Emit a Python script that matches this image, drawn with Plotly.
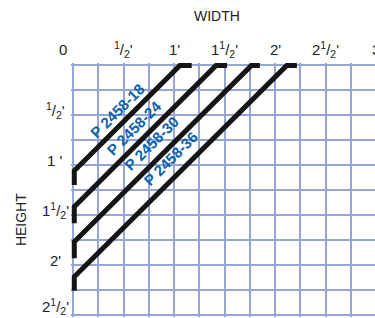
import plotly.graph_objects as go

# ---- data (inches) ----
models = ["P 2458-18", "P 2458-24", "P 2458-30", "P 2458-36"]
corner = [12.7, 17.0, 21.2, 25.4]      # where the 45° run meets the left edge / top edge
bottom = [14.4, 19.0, 23.2, 27.1]      # lower end of vertical leg
top_end = [14.1, 18.3, 22.2, 26.6]     # right end of horizontal leg
label_x = [5.3, 7.3, 9.3, 11.6]
label_y = [5.5, 7.5, 9.4, 11.2]

x_tick_vals = [0, 6, 12, 18, 24, 30, 36]
x_tick_text = ["0", "<sup>1</sup>/<sub>2</sub>'", "1'", "1<sup>1</sup>/<sub>2</sub>'",
               "2'", "2<sup>1</sup>/<sub>2</sub>'", "3"]
y_tick_vals = [6, 12, 18, 24, 30]
y_tick_text = ["<sup>1</sup>/<sub>2</sub>'", "1 '", "1<sup>1</sup>/<sub>2</sub>'",
               "2'", "2<sup>1</sup>/<sub>2</sub>'"]

FONT = "Liberation Sans, Arial, Helvetica"
X_RANGE = [-0.24, 35.88]
PX_PER_IN = 304 / (X_RANGE[1] - X_RANGE[0])
LEG = 0.15
fig = go.Figure()
for i, m in enumerate(models):
    fig.add_trace(go.Scatter(
        x=[LEG, LEG, corner[i], top_end[i]],
        y=[bottom[i], corner[i], 0.05, 0.05],
        mode="lines", line=dict(color="#151515", width=5),
        hoverinfo="skip", showlegend=False))

ann = []
for i, m in enumerate(models):
    ann.append(dict(x=label_x[i], y=label_y[i], xref="x", yref="y", text="<b>%s</b>" % m,
                    textangle=-45, showarrow=False, xanchor="center", yanchor="middle",
                    font=dict(family=FONT, size=15, color="#0a62ab")))
for v, t in zip(x_tick_vals, x_tick_text):
    xv = min(v, X_RANGE[1])
    shift = (v - xv) * PX_PER_IN
    if v == 0:
        shift -= 10
    ann.append(dict(x=xv, y=0, xref="x", yref="y", text=t, showarrow=False,
                    yanchor="middle", xanchor="center", yshift=16, xshift=shift,
                    font=dict(family=FONT, size=15, color="#222")))
for v, t in zip(y_tick_vals, y_tick_text):
    ann.append(dict(x=0, y=v, xref="x", yref="y", text=t, showarrow=False,
                    yanchor="middle", xanchor="center", xshift=-18,
                    yshift=5 if v != 30 else 9,
                    font=dict(family=FONT, size=15, color="#222")))
ann.append(dict(x=0.48, y=1.185, xref="paper", yref="paper", text="WIDTH", showarrow=False,
                xanchor="center", yanchor="middle",
                font=dict(family=FONT, size=14, color="#222")))
ann.append(dict(x=-0.164, y=0.382, xref="paper", yref="paper", text="HEIGHT", showarrow=False,
                textangle=-90, xanchor="center", yanchor="middle",
                font=dict(family=FONT, size=14, color="#222")))

grid = "#95a5d4"
fig.update_layout(
    width=375, height=318,
    margin=dict(l=71, r=0, t=63, b=1),
    paper_bgcolor="white", plot_bgcolor="white",
    xaxis=dict(range=X_RANGE, tickmode="linear", tick0=0, dtick=3,
               showgrid=True, gridcolor=grid, gridwidth=2, zeroline=False,
               showticklabels=False, ticks="", fixedrange=True),
    yaxis=dict(range=[30.24, -0.24], tickmode="linear", tick0=0, dtick=3,
               showgrid=True, gridcolor=grid, gridwidth=2, zeroline=False,
               showticklabels=False, ticks="", fixedrange=True),
    annotations=ann,
)
fig.write_html("out.html", config={"displayModeBar": False},
               post_script="document.body.style.margin='0';document.body.style.padding='0';")
